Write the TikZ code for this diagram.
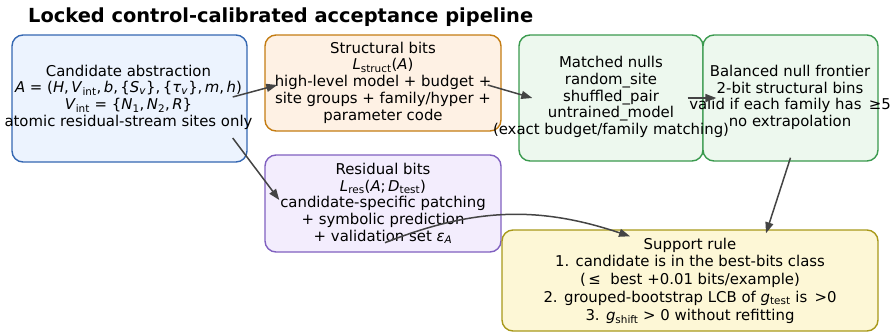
\documentclass[tikz,border=0pt]{standalone}
\usepackage{fontspec}
\setmainfont{DejaVu Sans}
\usetikzlibrary{arrows.meta, calc}

\definecolor{candline}{HTML}{3467B2}
\definecolor{candfill}{HTML}{ECF3FE}
\definecolor{structline}{HTML}{C47C12}
\definecolor{structfill}{HTML}{FEF1E4}
\definecolor{nullline}{HTML}{3A9A4E}
\definecolor{nullfill}{HTML}{EDF8EE}
\definecolor{resline}{HTML}{8060C0}
\definecolor{resfill}{HTML}{F3EDFD}
\definecolor{ruleline}{HTML}{A8991A}
\definecolor{rulefill}{HTML}{FDF7D6}
\definecolor{arrowgray}{HTML}{444444}

\newcommand{\mi}[1]{\textit{#1}}
\newcommand{\lowtext}[1]{\textsubscript{#1}}

\begin{document}
\begin{tikzpicture}[x=1pt, y=-1pt, >={Triangle[length=11pt, width=8pt]},
    stagebox/.style={rounded corners=11pt, line width=1.4pt, inner sep=0pt},
    stagetext/.style={align=center, inner sep=0pt,
      font=\fontsize{14.9}{16.7}\selectfont},
    link/.style={->, line width=1.5pt, draw=arrowgray}]
  \useasboundingbox (0,0) rectangle (892,332);

  \node[font=\fontsize{19.4}{22}\selectfont\bfseries, anchor=west, inner sep=0pt] (title) at (28,17)
    {Locked control-calibrated acceptance pipeline};

  % boxes
  \node[stagebox, draw=candline, fill=candfill, minimum width=235pt, minimum height=127pt] (cand) at (129.5,98.5) {};
  \node[stagebox, draw=structline, fill=structfill, minimum width=236pt, minimum height=96pt] (struct) at (383,83) {};
  \node[stagebox, draw=resline, fill=resfill, minimum width=236pt, minimum height=97pt] (res) at (383,203.5) {};
  \node[stagebox, draw=nullline, fill=nullfill, minimum width=184pt, minimum height=126pt] (nulls) at (611,98) {};
  \node[stagebox, draw=nullline, fill=nullfill, minimum width=175pt, minimum height=126pt] (front) at (790.5,98) {};
  \node[stagebox, draw=ruleline, fill=rulefill, minimum width=376pt, minimum height=101pt] (rule) at (690,280.5) {};

  % texts
  \node[stagetext] (candtxt) at (128.5,97) {Candidate abstraction\\
    \mi{A} = (\mi{H},\,\mi{V}\lowtext{int},\,\mi{b},\,\{\mi{S}\lowtext{\mi{v}}\},\,\{\mi{τ}\lowtext{\mi{v}}\},\,\mi{m},\,\mi{h})\\
    \mi{V}\lowtext{int} = \{\mi{N}\lowtext{1},\,\mi{N}\lowtext{2},\,\mi{R}\}\\
    atomic residual-stream sites only};
  \node[stagetext] (structtxt) at (383,82.5) {Structural bits\\
    \mi{L}\lowtext{struct}(\mi{A})\\
    high-level model + budget +\\
    site groups + family/hyper +\\
    parameter code};
  \node[stagetext] (nullstxt) at (611,97) {Matched nulls\\ random\_site\\ shuffled\_pair\\ untrained\_model\\
    (exact budget/family matching)};
  \node[stagetext] (fronttxt) at (790,97.5) {Balanced null frontier\\
    2-bit structural bins\\
    valid if each family has \,≥5\\
    no extrapolation};
  \node[stagetext] (restxt) at (383,203.5) {Residual bits\\
    \mi{L}\lowtext{res}(\mi{A};\,\mi{D}\lowtext{test})\\
    candidate-specific patching\\
    + symbolic prediction\\
    + validation set \mi{ε}\lowtext{\mi{A}}};
  \node[stagetext, font=\fontsize{14.9}{17.8}\selectfont] (ruletxt) at (690,280.5) {Support rule\\
    1. candidate is in the best-bits class\\
    (\,≤ \ best +0.01 bits/example)\\
    2. grouped-bootstrap LCB of \mi{g}\lowtext{test} is \,>0\\
    3. \mi{g}\lowtext{shift} > 0 without refitting};

  % arrow ends
  \coordinate (candR) at ($(cand.east)+(-15,-1.5)$);
  \coordinate (candL) at ($(cand.east)+(-15,39.5)$);
  \coordinate (structIn) at ($(struct.west)+(13,2)$);
  \coordinate (structOut) at ($(struct.east)+(-14,2)$);
  \coordinate (resIn) at ($(res.west)+(15,-3.5)$);
  \coordinate (resOut) at ($(res.south)+(2,-10)$);
  \coordinate (nullsIn) at ($(nulls.west)+(14,0)$);
  \coordinate (nullsOut) at ($(nulls.east)+(-16,0)$);
  \coordinate (frontIn) at ($(front.west)+(14,0)$);
  \coordinate (frontOut) at ($(front.south)+(0,-4)$);
  \coordinate (ruleIn) at ($(rule.north)+(76,4)$);
  \coordinate (ruleTop) at ($(rule.north)+(-60,7)$);

  \draw[link] (candR) -- (structIn);
  \draw[link] (candL) -- (resIn);
  \draw[link] (structOut) -- (nullsIn);
  \draw[link] (nullsOut) -- (frontIn);
  \draw[link] (frontOut) -- (ruleIn);
  \draw[link] (resOut) to[bend left=20] (ruleTop);
\end{tikzpicture}
\end{document}
